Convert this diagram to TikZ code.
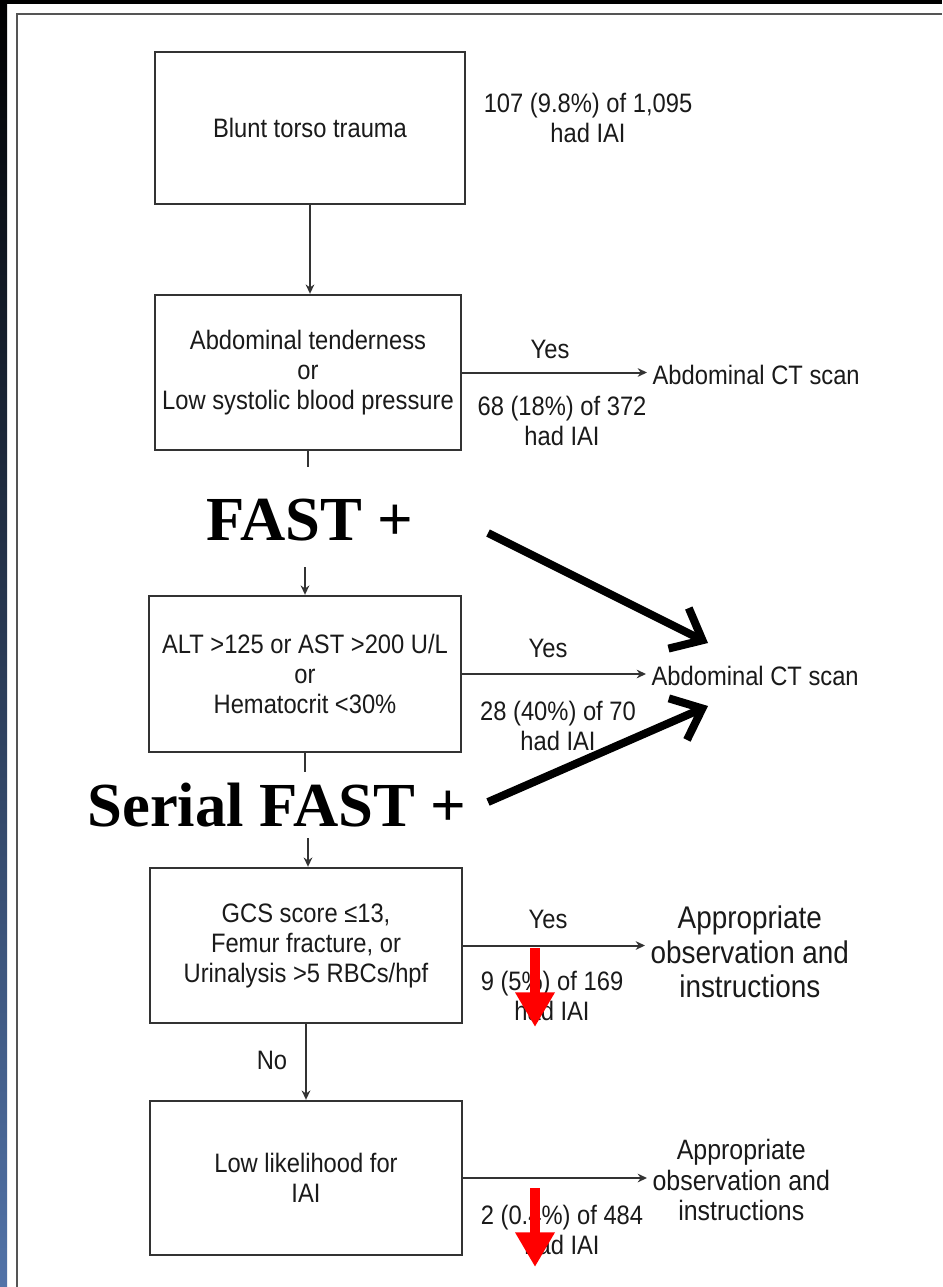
\documentclass[tikz,border=0pt]{standalone}
\usepackage{fontspec}
\usetikzlibrary{arrows.meta}
\newfontfamily\figfont[FakeStretch=0.89]{Liberation Sans}
\newfontfamily\annfont{Liberation Serif}
\definecolor{ink}{HTML}{1A1A1A}
\definecolor{lineg}{HTML}{333333}
\definecolor{stripbot}{HTML}{5273A8}
\definecolor{stripmid}{HTML}{2A3A5A}
\definecolor{framegray}{HTML}{555555}
\definecolor{hired}{HTML}{FF0000}
\begin{document}
\begin{tikzpicture}[x=0.75pt,y=-0.75pt,
  box/.style={draw=lineg, line width=1.8pt, align=center, text=ink,
    font=\figfont\fontsize{20}{22.5}\selectfont, inner sep=0pt},
  lbl/.style={text=ink, align=center, font=\figfont\fontsize{20}{22}\selectfont, inner sep=0pt},
  target/.style={lbl, anchor=west, inner xsep=4pt},
  bigtarget/.style={target, font=\figfont\fontsize{23.5}{26}\selectfont},
  midtarget/.style={target, font=\figfont\fontsize{21}{23}\selectfont},
  flow/.style={draw=lineg, line width=1.5pt, -{Stealth[length=7pt,width=6.5pt]}},
  plainline/.style={draw=lineg, line width=1.5pt},
  big/.style={font=\annfont\bfseries\fontsize{47}{50}\selectfont, text=black, inner sep=0pt},
  fat/.style={line width=6pt, black, -{Straight Barb[length=20pt,width=34pt]}},
  redarrow/.style={hired, line width=8.2pt, -{Triangle[length=26pt,width=28pt]}}
]
\useasboundingbox (0,0) rectangle (942,1287);
\fill[white] (0,0) rectangle (942,1287);
% frame
\fill[black] (0,0) rectangle (942,4);
\shade[top color=black, middle color=stripmid, bottom color=stripbot] (0,0) rectangle (7,1287);
\draw[framegray, line width=1.2pt] (17,1287) -- (17,14) -- (942,14);

% boxes
\node[box, minimum width=232.5pt, minimum height=114pt] (b1) at (310,128) {Blunt torso trauma};
\node[box, minimum width=229.5pt, minimum height=116.25pt] (b2) at (308,372.5)
  {Abdominal tenderness\\or\\Low systolic blood pressure};
\node[box, minimum width=234pt, minimum height=117pt] (b3) at (305,674)
  {ALT >125 or AST >200 U/L\\or\\Hematocrit <30\%};
\node[box, minimum width=234pt, minimum height=116.25pt] (b4) at (306,945.5)
  {GCS score ≤13,\\Femur fracture, or\\Urinalysis >5 RBCs/hpf};
\node[box, minimum width=234pt, minimum height=115.5pt] (b5) at (306,1178)
  {Low likelihood for\\IAI};

% side labels
\node[lbl] (n1) at (588,118) {107 (9.8\%) of 1,095\\had IAI};
\node[lbl] (y2) at (550,349) {Yes};
\node[lbl] (n2) at (562,421) {68 (18\%) of 372\\had IAI};
\node[lbl] (y3) at (548,648) {Yes};
\node[lbl] (n3) at (558,726) {28 (40\%) of 70\\had IAI};
\node[lbl] (y4) at (548,919) {Yes};
\node[lbl] (n4) at (552,996) {9 (5\%) of 169\\had IAI};
\node[lbl] (n5) at (562,1230) {2 (0.4\%) of 484\\had IAI};
\node[lbl] (no) at (272,1060) {No};

% targets
\node[target] (ct1) at (647,375) {Abdominal CT scan};
\node[target] (ct2) at (646,676) {Abdominal CT scan};
\node[bigtarget] (ap1) at (645,952) {Appropriate\\observation and\\instructions};
\node[midtarget] (ap2) at (647,1180) {Appropriate\\observation and\\instructions};

% vertical connectors
\draw[flow] (b1.south) -- (b1.south |- b2.north);
\coordinate (c2a) at (308,467);
\coordinate (c2b) at (305,567);
\draw[plainline] (b2.south) -- (c2a);
\draw[flow] (c2b) -- (c2b |- b3.north);
\coordinate (c3a) at (305,772);
\coordinate (c3b) at (308,838);
\draw[plainline] (b3.south) -- (c3a);
\draw[flow] (c3b) -- (c3b |- b4.north);
\draw[flow] (b4.south) -- (b4.south |- b5.north);

% horizontal connectors
\draw[flow] (b2.east) -- (b2.east -| ct1.west);
\draw[flow] (b3.east) -- (b3.east -| ct2.west);
\draw[flow] (b4.east) -- (b4.east -| ap1.west);
\draw[flow] (b5.east) -- (b5.east -| ap2.west);

% overlay annotations
\node[big] (fast) at (310,520) {FAST +};
\node[big] (sfast) at (277,805) {Serial FAST +};
\coordinate (f1s) at (488,533);
\coordinate (f1e) at (708,643);
\coordinate (f2s) at (488,802);
\coordinate (f2e) at (708,706);
\draw[fat] (f1s) -- (f1e);
\draw[fat] (f2s) -- (f2e);

\coordinate (r1s) at (535,948);
\coordinate (r1e) at (535,1027);
\coordinate (r2s) at (535,1188);
\coordinate (r2e) at (535,1267);
\draw[redarrow] (r1s) -- (r1e);
\draw[redarrow] (r2s) -- (r2e);
\end{tikzpicture}
\end{document}
